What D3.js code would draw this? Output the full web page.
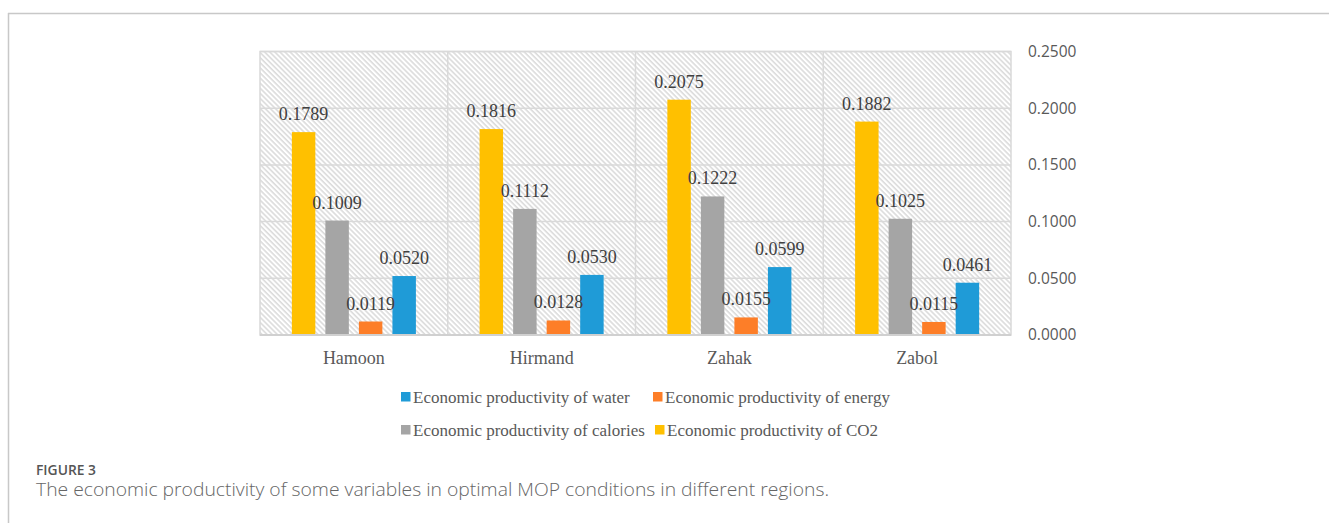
<!DOCTYPE html>
<html>
<head>
<meta charset="utf-8">
<script src="https://cdn.jsdelivr.net/npm/d3@7"></script>
<style>
  html, body { margin: 0; padding: 0; background: #fff; }
  svg { display: block; }
</style>
</head>
<body>
<div id="chart"></div>
<script>
// Regions on the x axis
const regions = ["Hamoon", "Hirmand", "Zahak", "Zabol"]

// Series in bar order inside each group
const seriesKeys = ["co2", "calories", "energy", "water"]
const seriesNames = {
  water: "Economic productivity of water",
  energy: "Economic productivity of energy",
  calories: "Economic productivity of calories",
  co2: "Economic productivity of CO2"
}
const seriesColors = {
  water: "#1f9bd7",
  energy: "#fd7e28",
  calories: "#a5a5a5",
  co2: "#ffc000"
}
// legend order (as in the reference)
const legendOrder = ["water", "energy", "calories", "co2"]

const co2Values = [0.1789, 0.1816, 0.2075, 0.1882]
const caloriesValues = [0.1009, 0.1112, 0.1222, 0.1025]
const energyValues = [0.0119, 0.0128, 0.0155, 0.0115]
const waterValues = [0.0520, 0.0530, 0.0599, 0.0461]

const yTicks = [0, 0.05, 0.10, 0.15, 0.20, 0.25]

const valuesBySeries = {
  co2: co2Values,
  calories: caloriesValues,
  energy: energyValues,
  water: waterValues
}

const width = 1329
const height = 523
const plot = { left: 260, right: 1011, top: 51.5, bottom: 335 }

const svg = d3.select("#chart").append("svg")
  .attr("width", width)
  .attr("height", height)

// hatch pattern for plot background
const defs = svg.append("defs")
const pat = defs.append("pattern")
  .attr("id", "hatch")
  .attr("patternUnits", "userSpaceOnUse")
  .attr("width", 3.6)
  .attr("height", 3.6)
  .attr("patternTransform", "rotate(45)")
pat.append("rect").attr("width", 3.6).attr("height", 3.6).attr("fill", "#fff")
pat.append("line")
  .attr("x1", 0).attr("x2", 3.6)
  .attr("y1", 0.8).attr("y2", 0.8)
  .attr("stroke", "#d9d9d9")
  .attr("stroke-width", 1.5)

// outer frame (top + left only)
svg.append("line")
  .attr("x1", 8).attr("x2", width).attr("y1", 13.5).attr("y2", 13.5)
  .attr("stroke", "#c8c8c8").attr("stroke-width", 1.5)
svg.append("line")
  .attr("x1", 8.5).attr("x2", 8.5).attr("y1", 13).attr("y2", height)
  .attr("stroke", "#c8c8c8").attr("stroke-width", 1.5)

const x0 = d3.scaleBand().domain(regions).range([plot.left, plot.right]).padding(0)
const x1 = d3.scaleBand().domain(seriesKeys).range([0, x0.bandwidth()])
  .paddingInner(0.3).paddingOuter(0.95)
const y = d3.scaleLinear().domain([0, 0.25]).range([plot.bottom, plot.top])

// plot background
svg.append("rect")
  .attr("x", plot.left).attr("y", plot.top)
  .attr("width", plot.right - plot.left).attr("height", plot.bottom - plot.top)
  .attr("fill", "url(#hatch)")
  .attr("stroke", "#d9d9d9").attr("stroke-width", 1.5)

// horizontal gridlines
svg.append("g")
  .selectAll("line")
  .data(yTicks)
  .join("line")
  .attr("x1", plot.left).attr("x2", plot.right)
  .attr("y1", d => y(d)).attr("y2", d => y(d))
  .attr("stroke", "#d9d9d9").attr("stroke-width", 1.5)

// vertical category separators
svg.append("g")
  .selectAll("line")
  .data(regions.slice(1))
  .join("line")
  .attr("x1", d => x0(d)).attr("x2", d => x0(d))
  .attr("y1", plot.top).attr("y2", plot.bottom)
  .attr("stroke", "#d9d9d9").attr("stroke-width", 1.5)

// bars
const groups = svg.append("g")
  .selectAll("g")
  .data(regions)
  .join("g")
  .attr("transform", d => `translate(${x0(d)},0)`)

const barData = (region, i) => seriesKeys.map(k => ({ key: k, value: valuesBySeries[k][i] }))

groups.selectAll("rect")
  .data((d, i) => barData(d, i))
  .join("rect")
  .attr("x", d => x1(d.key))
  .attr("width", x1.bandwidth())
  .attr("y", d => y(d.value))
  .attr("height", d => y(0) - y(d.value))
  .attr("fill", d => seriesColors[d.key])

groups.selectAll("text")
  .data((d, i) => barData(d, i))
  .join("text")
  .attr("x", d => x1(d.key) + x1.bandwidth() / 2)
  .attr("y", d => y(d.value) - 12)
  .attr("text-anchor", "middle")
  .attr("font-family", "'Liberation Serif', 'Times New Roman', serif")
  .attr("font-size", "18px")
  .attr("fill", "#404040")
  .text(d => d.value.toFixed(4))

// bottom axis line
svg.append("line")
  .attr("x1", plot.left).attr("x2", plot.right)
  .attr("y1", plot.bottom).attr("y2", plot.bottom)
  .attr("stroke", "#d0d0d0").attr("stroke-width", 2)

// x axis labels
const xAxis = d3.axisBottom(x0).tickSize(0).tickPadding(0)
const gx = svg.append("g")
  .attr("transform", `translate(0,${plot.bottom})`)
  .call(xAxis)
gx.select(".domain").remove()
gx.selectAll("text")
  .attr("dy", null)
  .attr("y", 29)
  .attr("font-family", "'Liberation Serif', 'Times New Roman', serif")
  .attr("font-size", "18px")
  .attr("fill", "#595959")

// right y axis labels
const yAxis = d3.axisRight(y).tickValues(yTicks).tickSize(0).tickPadding(0)
  .tickFormat(d => d.toFixed(4))
const gy = svg.append("g")
  .attr("transform", `translate(1028,0)`)
  .call(yAxis)
gy.select(".domain").remove()
gy.selectAll("text")
  .attr("font-family", "'Open Sans', sans-serif")
  .attr("font-size", "15.5px")
  .attr("fill", "#595959")

// legend
const legendPos = {
  water: [401, 397],
  energy: [653, 397],
  calories: [401, 430],
  co2: [655, 430]
}
const legend = svg.append("g")
  .selectAll("g")
  .data(legendOrder)
  .join("g")
  .attr("transform", d => `translate(${legendPos[d][0]},${legendPos[d][1]})`)
legend.append("rect")
  .attr("x", 0).attr("y", -5)
  .attr("width", 9.5).attr("height", 9.5)
  .attr("fill", d => seriesColors[d])
legend.append("text")
  .attr("x", 12).attr("y", 6)
  .attr("font-family", "'Liberation Serif', 'Times New Roman', serif")
  .attr("font-size", "17px")
  .attr("fill", "#595959")
  .text(d => seriesNames[d])

// caption
svg.append("text")
  .attr("x", 36).attr("y", 475)
  .attr("font-family", "'Open Sans', sans-serif")
  .attr("font-size", "13.5px")
  .attr("font-weight", 600)
  .attr("textLength", 60)
  .attr("lengthAdjust", "spacingAndGlyphs")
  .attr("fill", "#555")
  .text("FIGURE 3")
svg.append("text")
  .attr("x", 36).attr("y", 496)
  .attr("font-family", "'Open Sans', sans-serif")
  .attr("font-size", "17.5px")
  .attr("font-weight", 300)
  .attr("textLength", 793)
  .attr("lengthAdjust", "spacingAndGlyphs")
  .attr("fill", "#666")
  .text("The economic productivity of some variables in optimal MOP conditions in different regions.")
</script>
</body>
</html>
